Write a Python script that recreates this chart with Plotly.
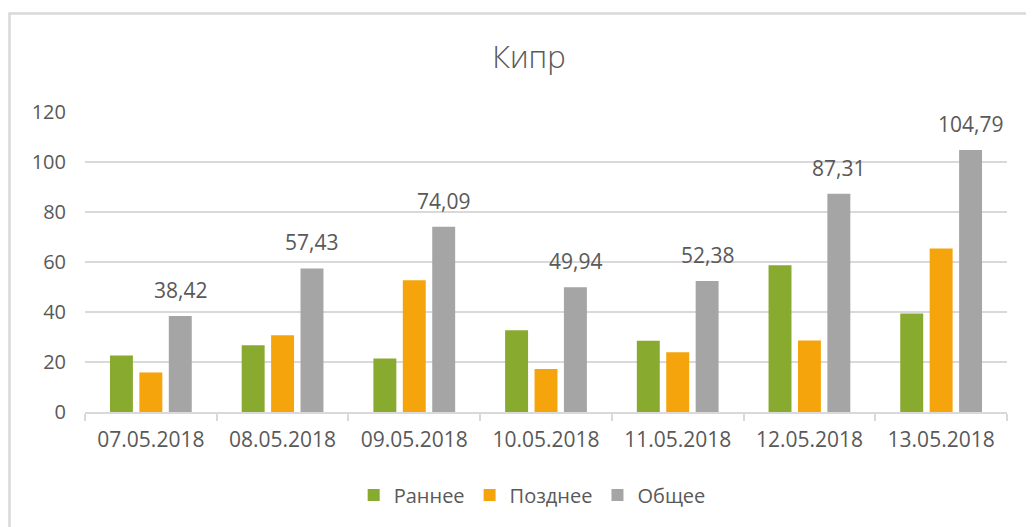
import plotly.graph_objects as go

dates = ["07.05.2018", "08.05.2018", "09.05.2018", "10.05.2018",
         "11.05.2018", "12.05.2018", "13.05.2018"]
early = [22.6, 26.7, 21.4, 32.7, 28.5, 58.7, 39.4]
late = [15.82, 30.73, 52.69, 17.24, 23.88, 28.61, 65.39]
total = [38.42, 57.43, 74.09, 49.94, 52.38, 87.31, 104.79]
series_names = ["Раннее", "Позднее", "Общее"]
colors = ["#88AA2E", "#F5A50B", "#A5A5A5"]
title_text = "Кипр"
y_ticks = [0, 20, 40, 60, 80, 100, 120]

W, H = 1034, 527
OFF = 8  # page body margin offset
ML, MT = 85 - OFF, 112 - OFF
MR = W - (1007 - OFF)
MB = H - (412 - OFF)
plot_w = W - ML - MR
plot_h = H - MT - MB
BARGAP = 0.33
BARGROUPGAP = 0.22

txt = "#595959"
grid = "#D9D9D9"

fig = go.Figure()
for name, vals, col in zip(series_names, [early, late, total], colors):
    fig.add_trace(go.Bar(x=dates, y=vals, name=name, marker_color=col,
                         marker_line_width=0, hoverinfo="skip"))

# data labels above the "Общее" bars
slot_px = (1 - BARGAP) * (plot_w / len(dates)) / 3
for d, v in zip(dates, total):
    fig.add_annotation(x=d, y=v, xref="x", yref="y",
                       text=f"{v:.2f}".replace(".", ","),
                       showarrow=False, xanchor="center", yanchor="bottom",
                       xshift=slot_px, yshift=10,
                       font=dict(family="Open Sans", size=21, color=txt))

# chart area border
x0 = (1.5 - ML) / plot_w
x1 = (W + 20 - ML) / plot_w
y1 = (H - MB - 5.5) / plot_h
y0 = -(MB + 20) / plot_h
fig.add_shape(type="rect", xref="paper", yref="paper", x0=x0, x1=x1, y0=y0, y1=y1,
              line=dict(color=grid, width=2.5), fillcolor="rgba(0,0,0,0)", layer="below")

fig.update_layout(
    width=W, height=H,
    margin=dict(l=ML, r=MR, t=MT, b=MB, autoexpand=False),
    paper_bgcolor="white", plot_bgcolor="white",
    barmode="group", bargap=BARGAP, bargroupgap=BARGROUPGAP,
    title=dict(text=title_text, x=(529 - OFF) / W, xref="container", xanchor="center",
               y=(H - (57 - OFF)) / H, yref="container", yanchor="middle",
               font=dict(family="Open Sans", size=31, color=txt, weight=300)),
    legend=dict(orientation="h", x=0.485, xanchor="center",
                y=-(495 - 412) / plot_h,
                yanchor="middle", font=dict(family="Open Sans", size=20, color=txt),
                itemwidth=30, tracegroupgap=0, traceorder="normal"),
    showlegend=True,
    font=dict(family="Open Sans", color=txt),
)
fig.update_xaxes(showgrid=False, showline=True, linecolor=grid, linewidth=1.5,
                 ticks="outside", tickson="boundaries", ticklen=7, tickcolor=grid,
                 tickwidth=1.5, tickfont=dict(family="Open Sans", size=21, color=txt),
                 ticklabelstandoff=8, fixedrange=True, automargin=False)
fig.update_yaxes(range=[0, 120], tickvals=y_ticks, showgrid=True, gridcolor=grid,
                 gridwidth=1.5, showline=False, zeroline=False,
                 tickfont=dict(family="Open Sans", size=20, color=txt),
                 ticklabelstandoff=18, fixedrange=True, automargin=False)

fig.write_html("out.html")
